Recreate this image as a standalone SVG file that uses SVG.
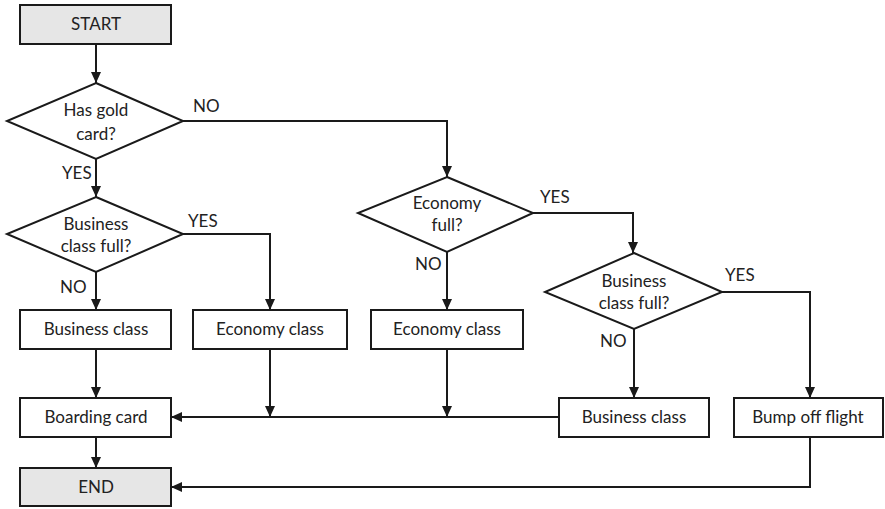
<svg xmlns="http://www.w3.org/2000/svg" width="885" height="509" viewBox="0 0 885 509">
  <style>
    .box { fill: #ffffff; stroke: #1a1a1a; stroke-width: 2; }
    .term { fill: #e6e6e6; stroke: #1a1a1a; stroke-width: 2; }
    .dec { fill: #ffffff; stroke: #1a1a1a; stroke-width: 2; stroke-linejoin: miter; }
    .txt { font-family: Lato, "Liberation Sans", sans-serif; font-size: 17px; fill: #222222; text-anchor: middle; }
    .lbl { font-family: Lato, "Liberation Sans", sans-serif; font-size: 17px; fill: #222222; }
    .wire { fill: none; stroke: #1a1a1a; stroke-width: 2; }
    .arr { marker-end: url(#head); }
  </style>
  <defs>
    <marker id="head" markerUnits="userSpaceOnUse" markerWidth="12" markerHeight="12" refX="11" refY="6" orient="auto">
      <path d="M0,1 L11,6 L0,11 Z" fill="#1a1a1a"/>
    </marker>
  </defs>

  <g id="connectors">
    <path class="wire arr" d="M96,44 V83"/>
    <path class="wire arr" d="M183,121 H447 V177"/>
    <path class="wire arr" d="M96,159 V197"/>
    <path class="wire arr" d="M183,234 H270 V310"/>
    <path class="wire arr" d="M96,272 V310"/>
    <path class="wire arr" d="M533,213 H633 V253"/>
    <path class="wire arr" d="M447,252 V310"/>
    <path class="wire arr" d="M722,292 H810 V398"/>
    <path class="wire arr" d="M634,329 V398"/>
    <path class="wire arr" d="M96,349 V398"/>
    <path class="wire arr" d="M270,349 V417"/>
    <path class="wire arr" d="M447,349 V417"/>
    <path class="wire arr" d="M559,417 H171"/>
    <path class="wire arr" d="M96,437 V468"/>
    <path class="wire arr" d="M810,437 V487 H171"/>
    <text class="lbl" x="193" y="112">NO</text>
    <text class="lbl" x="62" y="179">YES</text>
    <text class="lbl" x="188" y="227">YES</text>
    <text class="lbl" x="60" y="293">NO</text>
    <text class="lbl" x="540" y="203">YES</text>
    <text class="lbl" x="415" y="270">NO</text>
    <text class="lbl" x="725" y="281">YES</text>
    <text class="lbl" x="600" y="347">NO</text>
  </g>

  <g id="start">
    <rect class="term" x="20" y="5" width="151" height="39"/>
    <text class="txt" x="96" y="30">START</text>
  </g>

  <g id="has-gold-card">
    <polygon class="dec" points="96,83 183,121 96,159 7,121"/>
    <text class="txt" x="96" y="116">Has gold</text>
    <text class="txt" x="96" y="140">card?</text>
  </g>

  <g id="business-full-1">
    <polygon class="dec" points="96,197 183,234 96,272 7,234"/>
    <text class="txt" x="96" y="230">Business</text>
    <text class="txt" x="96" y="252">class full?</text>
  </g>

  <g id="economy-full">
    <polygon class="dec" points="447,177 533,213 447,252 358,213"/>
    <text class="txt" x="447" y="209">Economy</text>
    <text class="txt" x="447" y="231">full?</text>
  </g>

  <g id="business-full-2">
    <polygon class="dec" points="634,253 722,292 634,329 545,292"/>
    <text class="txt" x="634" y="287">Business</text>
    <text class="txt" x="634" y="309">class full?</text>
  </g>

  <g id="business-class-1">
    <rect class="box" x="20" y="310" width="151" height="39"/>
    <text class="txt" x="96" y="335">Business class</text>
  </g>

  <g id="economy-class-1">
    <rect class="box" x="193" y="310" width="154" height="39"/>
    <text class="txt" x="270" y="335">Economy class</text>
  </g>

  <g id="economy-class-2">
    <rect class="box" x="371" y="310" width="152" height="39"/>
    <text class="txt" x="447" y="335">Economy class</text>
  </g>

  <g id="boarding-card">
    <rect class="box" x="20" y="398" width="151" height="39"/>
    <text class="txt" x="96" y="423">Boarding card</text>
  </g>

  <g id="business-class-2">
    <rect class="box" x="559" y="398" width="150" height="39"/>
    <text class="txt" x="634" y="423">Business class</text>
  </g>

  <g id="bump-off-flight">
    <rect class="box" x="734" y="398" width="149" height="39"/>
    <text class="txt" x="808" y="423">Bump off flight</text>
  </g>

  <g id="end">
    <rect class="term" x="20" y="468" width="151" height="38"/>
    <text class="txt" x="96" y="493">END</text>
  </g>
</svg>
